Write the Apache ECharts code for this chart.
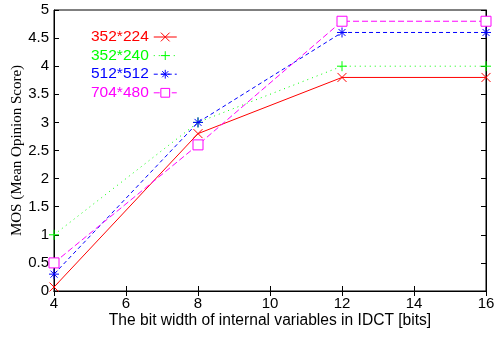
<!DOCTYPE html>
<html><head><meta charset="utf-8">
<script src="https://cdn.jsdelivr.net/npm/echarts@6/dist/echarts.min.js"></script>
<style>html,body{margin:0;padding:0;background:#fff}#c{width:496px;height:337px}</style>
</head><body><div id="c"></div>
<script>
const xValues = [4, 8, 12, 16];
const seriesNames = ['352*224', '352*240', '512*512', '704*480'];
const s352x224 = [0.07, 2.8, 3.8, 3.8];
const s352x240 = [1.0, 3.0, 4.0, 4.0];
const s512x512 = [0.3, 3.0, 4.6, 4.6];
const s704x480 = [0.5, 2.6, 4.8, 4.8];
const xTickLabels = ['4', '6', '8', '10', '12', '14', '16'];
const yTickLabels = ['0', '0.5', '1', '1.5', '2', '2.5', '3', '3.5', '4', '4.5', '5'];

const pair = arr => xValues.map((x, i) => [x, arr[i]]);
const colors = ['#ff0000', '#00ff00', '#0000ff', '#ff00ff'];
const symX = 'path://M0,0 L10,10 M10,0 L0,10';
const symPlus = 'path://M5,0 L5,10 M0,5 L10,5';
const symStar = 'path://M5,0 L5,10 M0,5 L10,5 M1.5,1.5 L8.5,8.5 M8.5,1.5 L1.5,8.5';
const font = 'Liberation Sans, Arial, sans-serif';

const chart = echarts.init(document.getElementById('c'), null, {renderer: 'canvas'});
const mk = (i, data, dash, sym, size, fill) => ({
  name: seriesNames[i], type: 'line', data: pair(data),
  symbol: sym, symbolSize: size, showAllSymbol: true,
  lineStyle: {color: colors[i], width: 1, type: dash},
  itemStyle: {color: fill, borderColor: colors[i], borderWidth: 1},
  emphasis: {disabled: true}, animation: false, z: 2 + i
});
chart.setOption({
  animation: false,
  grid: {left: 54, right: 10, top: 10, bottom: 46, show: true, borderColor: '#000', borderWidth: 1,
    containLabel: false, outerBoundsMode: 'none'},
  legend: {
    left: 91, top: 29, padding: 0, orient: 'vertical', align: 'right',
    itemWidth: 23, itemHeight: 11, itemGap: 2.6,
    lineStyle: {width: 1},
    itemStyle: {borderWidth: 1},
    textStyle: {fontFamily: font, fontSize: 15.5},
    data: seriesNames.map((n, i) => ({name: n, textStyle: {color: colors[i]}}))
  },
  xAxis: [{
    type: 'value', min: 4, max: 16, interval: 2,
    name: 'The bit width of internal variables in IDCT [bits]',
    nameLocation: 'middle', nameGap: 22, nameMoveOverlap: false,
    nameTextStyle: {fontFamily: font, fontSize: 15.6, color: '#000'},
    axisLine: {lineStyle: {color: '#000'}},
    axisTick: {inside: true, length: 5, lineStyle: {color: '#000'}},
    axisLabel: {fontFamily: font, fontSize: 15, color: '#000', margin: 5,
      formatter: v => xTickLabels[Math.round((v - 4) / 2)]},
    splitLine: {show: false}
  }, {
    type: 'value', min: 4, max: 16, interval: 2, position: 'top',
    axisLine: {lineStyle: {color: '#000'}},
    axisTick: {inside: true, length: 5, lineStyle: {color: '#000'}},
    axisLabel: {show: false}, splitLine: {show: false}
  }],
  yAxis: [{
    type: 'value', min: 0, max: 5, interval: 0.5,
    name: 'MOS (Mean Opinion Score)', nameLocation: 'middle', nameGap: 29, nameMoveOverlap: false,
    nameTextStyle: {fontFamily: 'Liberation Serif, Times New Roman, serif', fontSize: 15, color: '#000'},
    axisLine: {lineStyle: {color: '#000'}},
    axisTick: {inside: true, length: 5, lineStyle: {color: '#000'}},
    axisLabel: {fontFamily: font, fontSize: 15, color: '#000', margin: 5,
      formatter: v => yTickLabels[Math.round(v * 2)]},
    splitLine: {show: false}
  }, {
    type: 'value', min: 0, max: 5, interval: 0.5, position: 'right',
    axisLine: {lineStyle: {color: '#000'}},
    axisTick: {inside: true, length: 5, lineStyle: {color: '#000'}},
    axisLabel: {show: false}, splitLine: {show: false}
  }],
  series: [
    mk(0, s352x224, 'solid', symX, 9, colors[0]),
    mk(1, s352x240, [1, 4], symPlus, 10, colors[1]),
    mk(2, s512x512, [4, 3], symStar, 10, colors[2]),
    mk(3, s704x480, [6, 3], 'rect', 10, '#fff')
  ]
});
</script></body></html>
